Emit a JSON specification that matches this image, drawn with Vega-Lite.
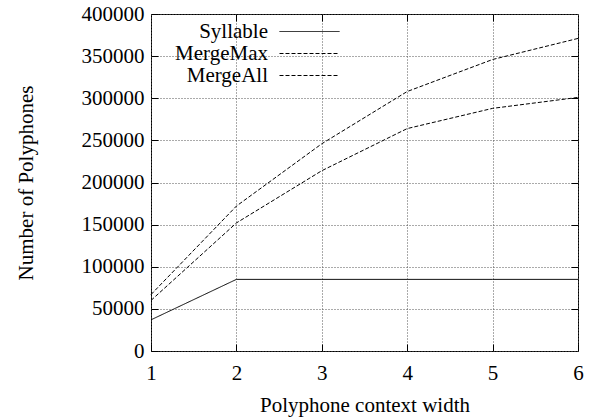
{
  "$schema": "https://vega.github.io/schema/vega-lite/v6.json",
  "width": 427,
  "height": 337,
  "autosize": {"type": "none"},
  "padding": {"left": 151, "top": 14, "right": 16, "bottom": 67},
  "background": "white",
  "config": {
    "font": "Liberation Serif",
    "view": {"stroke": "black", "strokeWidth": 1},
    "axis": {
      "labelFont": "Liberation Serif",
      "titleFont": "Liberation Serif",
      "labelFontSize": 21,
      "titleFontSize": 21,
      "titleFontWeight": "normal",
      "labelColor": "black",
      "titleColor": "black",
      "labelFlush": false,
      "domain": false,
      "tickColor": "black",
      "tickSize": -7,
      "gridColor": "#555",
      "gridDash": [1, 2],
      "gridWidth": 1
    }
  },
  "data": {
    "values": [
      {"series": "Syllable", "width": 1, "count": 37000},
      {"series": "Syllable", "width": 2, "count": 85000},
      {"series": "Syllable", "width": 3, "count": 85000},
      {"series": "Syllable", "width": 4, "count": 85000},
      {"series": "Syllable", "width": 5, "count": 85000},
      {"series": "Syllable", "width": 6, "count": 85000},
      {"series": "MergeMax", "width": 1, "count": 67000},
      {"series": "MergeMax", "width": 2, "count": 172000},
      {"series": "MergeMax", "width": 3, "count": 246000},
      {"series": "MergeMax", "width": 4, "count": 308000},
      {"series": "MergeMax", "width": 5, "count": 346000},
      {"series": "MergeMax", "width": 6, "count": 371000},
      {"series": "MergeAll", "width": 1, "count": 60000},
      {"series": "MergeAll", "width": 2, "count": 152000},
      {"series": "MergeAll", "width": 3, "count": 214000},
      {"series": "MergeAll", "width": 4, "count": 264000},
      {"series": "MergeAll", "width": 5, "count": 288000},
      {"series": "MergeAll", "width": 6, "count": 301000}
    ]
  },
  "layer": [
    {
      "mark": {"type": "line", "color": "black", "strokeWidth": 1},
      "encoding": {
        "x": {
          "field": "width", "type": "quantitative",
          "scale": {"domain": [1, 6], "nice": false},
          "axis": {"values": [1, 2, 3, 4, 5, 6], "title": "Polyphone context width", "labelFlush": false, "labelPadding": 18, "titlePadding": 11, "grid": true}
        },
        "y": {
          "field": "count", "type": "quantitative",
          "scale": {"domain": [0, 400000], "nice": false},
          "axis": {"values": [0, 50000, 100000, 150000, 200000, 250000, 300000, 350000, 400000], "format": "d", "title": "Number of Polyphones", "labelFlush": false, "labelPadding": 14, "titlePadding": 45, "grid": true}
        },
        "strokeDash": {
          "field": "series", "type": "nominal",
          "scale": {"domain": ["Syllable", "MergeMax", "MergeAll"], "range": [[1, 0], [4, 2], [4, 2]]},
          "legend": {
            "title": null,
            "orient": "none",
            "legendX": 148,
            "legendY": 7,
            "padding": 0,
            "symbolType": "M-3,0H3",
            "symbolSize": 400,
            "symbolStrokeColor": "black",
            "symbolStrokeWidth": 1,
            "symbolOffset": 0,
            "labelAlign": "right",
            "labelOffset": -52,
            "labelFont": "Liberation Serif",
            "labelFontSize": 21,
            "labelColor": "black",
            "rowPadding": 0,
            "labelLimit": 300
          }
        }
      }
    },
    {
      "mark": {"type": "point", "opacity": 0},
      "encoding": {
        "x": {"field": "width", "type": "quantitative", "axis": {"orient": "top", "values": [2, 3, 4, 5], "labels": false, "title": null, "grid": false}},
        "y": {"field": "count", "type": "quantitative", "axis": {"orient": "right", "values": [50000, 100000, 150000, 200000, 250000, 300000, 350000], "labels": false, "title": null, "grid": false}}
      }
    }
  ],
  "resolve": {"axis": {"x": "independent", "y": "independent"}}
}
